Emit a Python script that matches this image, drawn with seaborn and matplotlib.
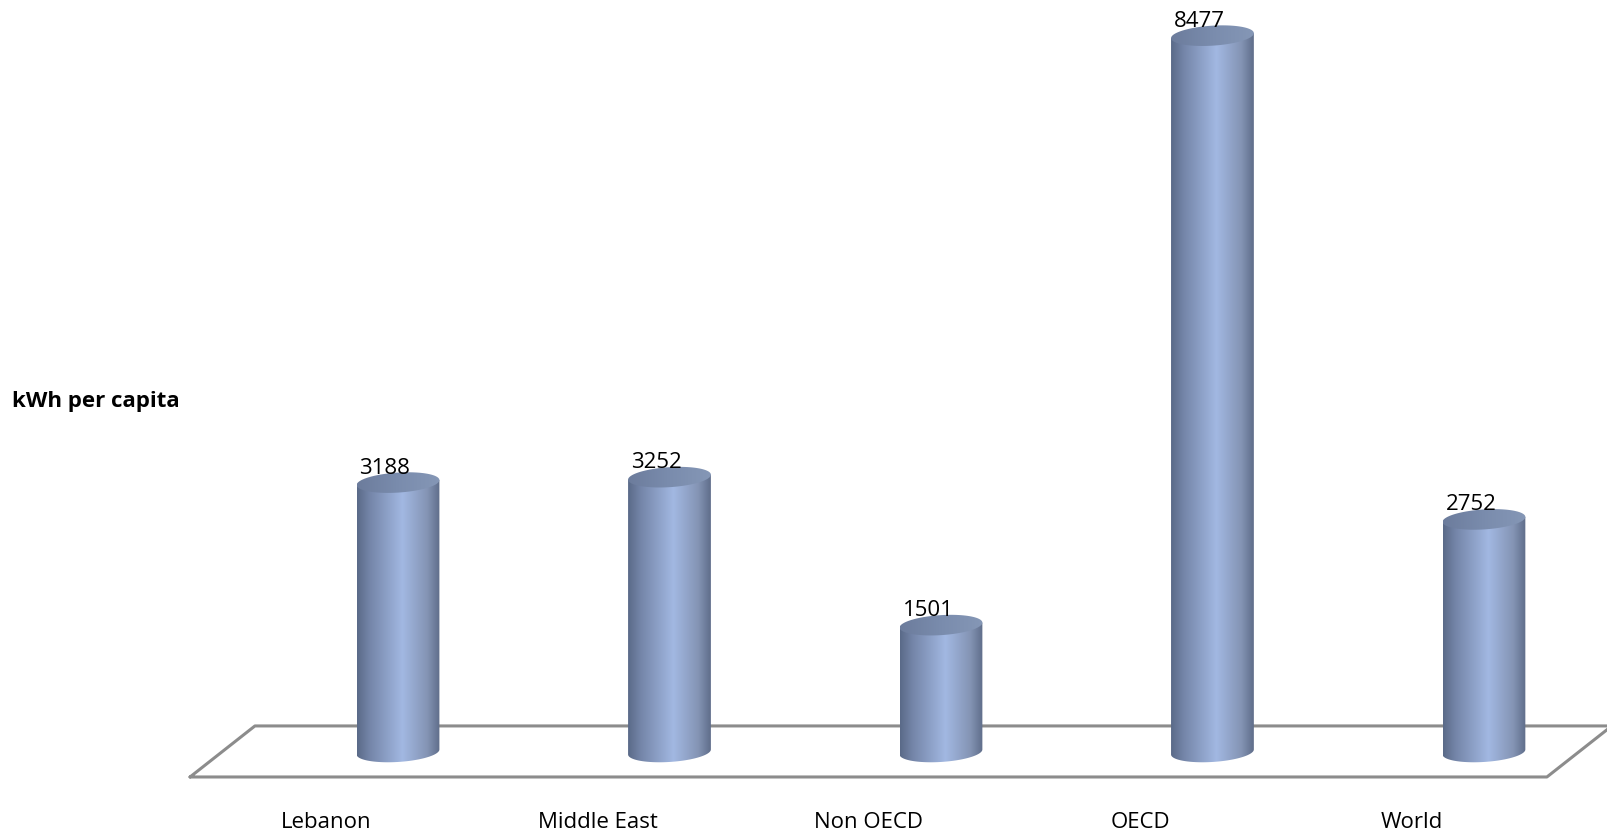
import numpy as np
import pandas as pd
import matplotlib
matplotlib.use("Agg")
import matplotlib.pyplot as plt
from matplotlib.colors import LinearSegmentedColormap
from matplotlib.patches import Polygon
import seaborn as sns

categories = ["Lebanon", "Middle East", "Non OECD", "OECD", "World"]
values = [3188, 3252, 1501, 8477, 2752]
y_label = "kWh per capita"

sns.set_theme(style="white")
plt.rcParams["font.family"] = ["Open Sans", "DejaVu Sans"]

W, H, DPI = 1608, 833, 100
fig = plt.figure(figsize=(W / DPI, H / DPI), dpi=DPI)
ax = fig.add_axes([0, 0, 1, 1])

df = pd.DataFrame({"cat": categories, "val": values})
bar_w = 0.305
sns.barplot(data=df, x="cat", y="val", ax=ax, width=bar_w, color="#9bb1dc",
            saturation=1, edgecolor="none")

ax.set_xlim(-1.466, 4.457)
ax.set_ylim(-959, 8899)
ax.axis("off")

upx_y = (8899 + 959) / H
upx_x = (4.457 + 1.466) / W

# floor parallelogram
back_y, front_y = 308, -296
floor_x = [-0.766, 4.232, 4.471, -0.527, -0.766]
floor_y = [front_y, front_y, back_y, back_y, front_y]
ax.plot(floor_x, floor_y, color="#8c8c8c", lw=2.2, zorder=1, clip_on=False)

body_cmap = LinearSegmentedColormap.from_list(
    "body", [(0.0, "#5a6a88"), (0.15, "#7485a8"), (0.55, "#a2b8e2"),
             (0.85, "#8494b4"), (1.0, "#5f6d8a")])
top_cmap = LinearSegmentedColormap.from_list(
    "top", [(0.0, "#6c7c9c"), (0.5, "#7a8cad"), (1.0, "#8597b6")])

b = 10 * upx_y
tilt = 2.5 * upx_y
t = np.linspace(0, 2 * np.pi, 200)
grad = np.linspace(0, 1, 256).reshape(1, -1)

for patch in list(ax.patches):
    x0 = patch.get_x()
    w = patch.get_width()
    h = patch.get_height()
    patch.set_visible(False)
    cx = x0 + w / 2
    a = w / 2
    tb = np.linspace(np.pi, 2 * np.pi, 100)
    bx = cx + a * np.cos(tb)
    by = 0 + b * np.sin(tb) + tilt * np.cos(tb)
    tt = np.linspace(0, np.pi, 100)
    tx = cx + a * np.cos(tt)
    ty = h + tilt * np.cos(tt)
    px = np.concatenate([bx, tx])
    py = np.concatenate([by, ty])
    body = Polygon(np.column_stack([px, py]), closed=True, fc="none", ec="none")
    ax.add_patch(body)
    im = ax.imshow(grad, cmap=body_cmap, aspect="auto",
                   extent=[cx - a, cx + a, -b - tilt, h + b],
                   interpolation="bilinear", zorder=2)
    im.set_clip_path(body)
    ex = cx + a * np.cos(t)
    ey = h + b * np.sin(t) + tilt * np.cos(t)
    top = Polygon(np.column_stack([ex, ey]), closed=True, fc="none", ec="none")
    ax.add_patch(top)
    im2 = ax.imshow(grad, cmap=top_cmap, aspect="auto",
                    extent=[cx - a, cx + a, h - b - tilt, h + b + tilt],
                    interpolation="bilinear", zorder=3)
    im2.set_clip_path(top)
    ax.text(cx - 13 * upx_x, h + b - 1 * upx_y, f"{int(round(h))}",
            ha="center", va="baseline", fontsize=16, color="black", zorder=4)

ax.set_xlim(-1.466, 4.457)
ax.set_ylim(-959, 8899)

# category labels sit along the front edge of the floor (perspective shift)
for i, c in enumerate(categories):
    ax.text(i - 72 * upx_x, -959 + 5 * upx_y, c, ha="center", va="baseline",
            fontsize=16, color="black")

fig.text(12 / W, 1 - 401 / H, y_label, ha="left", va="center",
         fontsize=16, fontweight="bold", color="black")

fig.savefig("out.png", dpi=DPI, facecolor="white")
